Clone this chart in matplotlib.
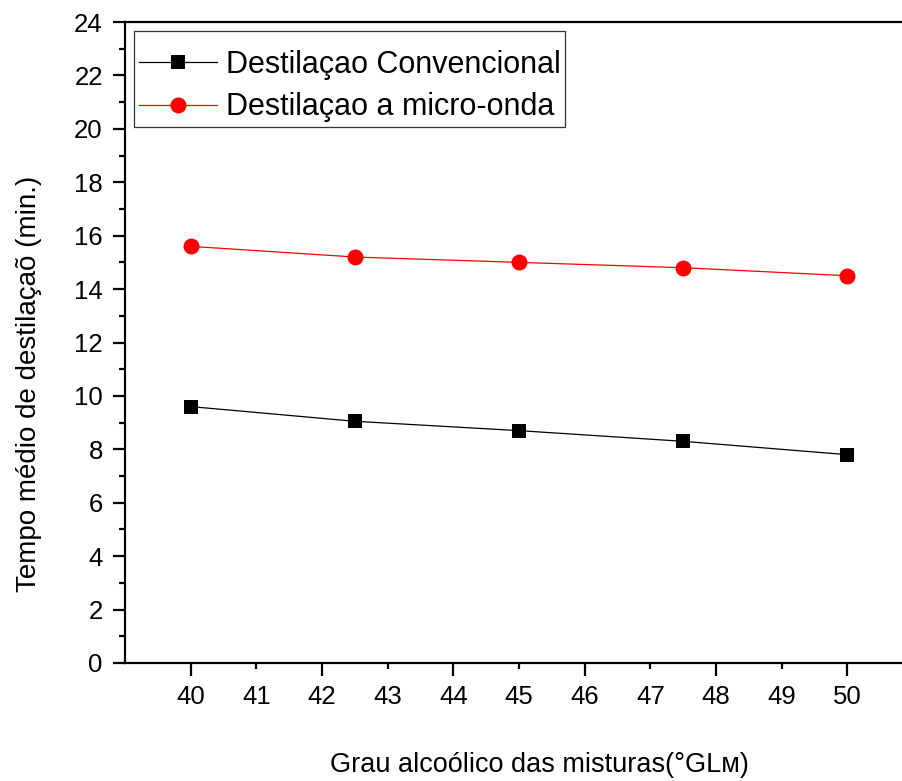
import matplotlib
matplotlib.use("Agg")
import matplotlib.pyplot as plt
from matplotlib.ticker import MultipleLocator

plt.rcParams['font.family'] = ['Liberation Sans', 'DejaVu Sans']

grau = [40, 42.5, 45, 47.5, 50]
convencional = [9.6, 9.05, 8.7, 8.3, 7.8]
micro_onda = [15.6, 15.2, 15.0, 14.8, 14.5]
labels = ["Destilaçao Convencional", "Destilaçao a micro-onda"]

fig = plt.figure(figsize=(9.02, 7.81), dpi=100)
ax = fig.add_axes([125/902, 118/781, (913-125)/902, (663-22)/781])

ax.plot(grau, convencional, color='black', lw=0.9, marker='s', ms=10,
        markeredgewidth=0, label=labels[0])
ax.plot(grau, micro_onda, color='red', lw=0.9, marker='o', ms=11.5,
        markeredgewidth=0, label=labels[1])

ax.set_xlim(39, 51)
ax.set_ylim(0, 24)
ax.yaxis.set_major_locator(MultipleLocator(2))
ax.yaxis.set_minor_locator(MultipleLocator(1))

# x ticks: even long, odd short
ax.set_xticks([40, 42, 44, 46, 48, 50])
ax.set_xticks([41, 43, 45, 47, 49], minor=True)
ax.set_xticklabels(['40', '42', '44', '46', '48', '50'])
ax.set_xticklabels(['41', '43', '45', '47', '49'], minor=True)

ax.spines['right'].set_visible(False)
for s in ['left', 'bottom', 'top']:
    ax.spines[s].set_linewidth(1.6)

ax.tick_params(axis='both', which='major', direction='out', length=9, width=1.6,
               labelsize=18.5, pad=7)
ax.tick_params(axis='y', which='minor', direction='out', length=4.5, width=1.6)
ax.tick_params(axis='x', which='minor', direction='out', length=4.5, width=1.6,
               labelsize=18.5, pad=11.5)
ax.tick_params(top=False, right=False, which='both')

fig.text(29/902, 1 - 384/781, "Tempo médio de destilaçaõ (min.)",
         fontsize=20, rotation=90, ha='center', va='center')
fig.text(539/902, 1 - 765/781, "Grau alcoólico das misturas(°GLᴍ)",
         fontsize=19.5, ha='center', va='center')

leg = ax.legend(loc='upper left', fontsize=22, frameon=True, fancybox=False,
                edgecolor='black', handlelength=2.55, handletextpad=0.3,
                borderpad=0.15, borderaxespad=0.3, labelspacing=0.42,
                title=" ", title_fontsize=1)
leg.get_frame().set_linewidth(0.9)

fig.savefig("out.png", dpi=100)
